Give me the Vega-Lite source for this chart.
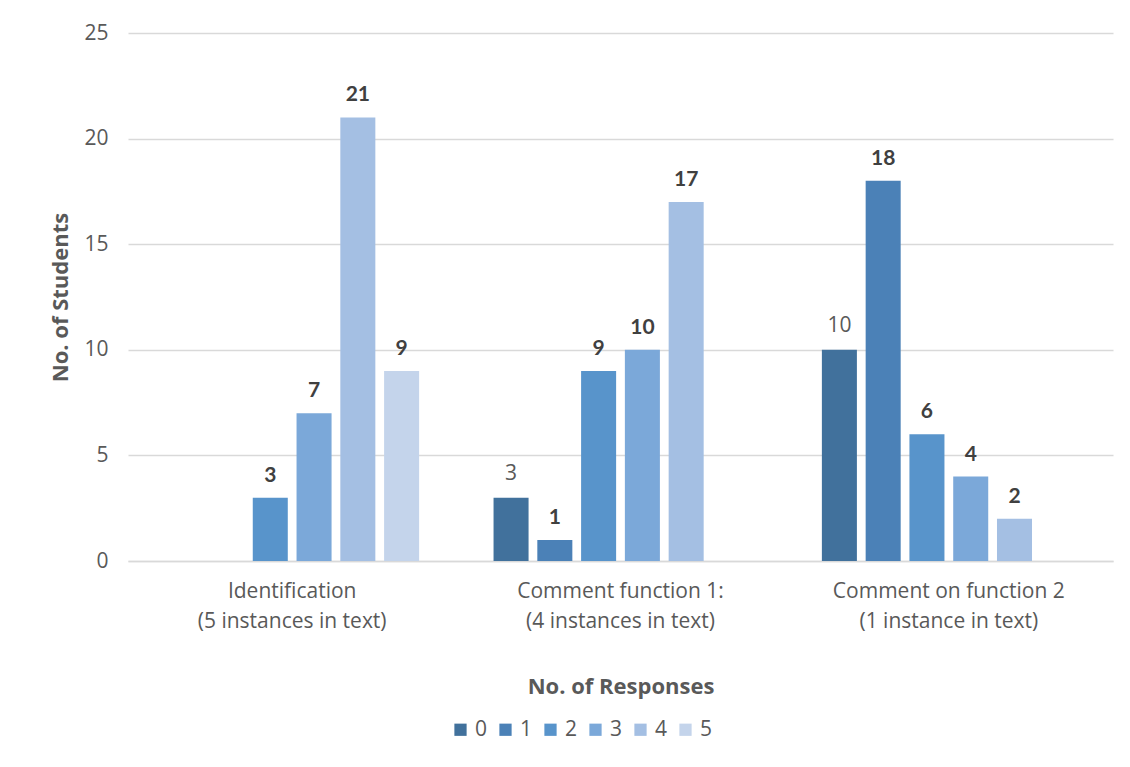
{
  "$schema": "https://vega.github.io/schema/vega-lite/v6.json",
  "autosize": {"type": "none"},
  "width": 985,
  "height": 528,
  "padding": {"left": 128, "top": 33, "right": 17, "bottom": 206},
  "background": "white",
  "data": {
    "values": [
      {"category": "Identification", "responses": "2", "students": 3},
      {"category": "Identification", "responses": "3", "students": 7},
      {"category": "Identification", "responses": "4", "students": 21},
      {"category": "Identification", "responses": "5", "students": 9},
      {"category": "Comment function 1:", "responses": "0", "students": 3},
      {"category": "Comment function 1:", "responses": "1", "students": 1},
      {"category": "Comment function 1:", "responses": "2", "students": 9},
      {"category": "Comment function 1:", "responses": "3", "students": 10},
      {"category": "Comment function 1:", "responses": "4", "students": 17},
      {"category": "Comment on function 2", "responses": "0", "students": 10},
      {"category": "Comment on function 2", "responses": "1", "students": 18},
      {"category": "Comment on function 2", "responses": "2", "students": 6},
      {"category": "Comment on function 2", "responses": "3", "students": 4},
      {"category": "Comment on function 2", "responses": "4", "students": 2}
    ]
  },
  "encoding": {
    "x": {
      "field": "category",
      "type": "nominal",
      "sort": ["Identification", "Comment function 1:", "Comment on function 2"],
      "scale": {"paddingInner": 0.2, "paddingOuter": 0.1},
      "axis": {
        "title": "No. of Responses",
        "labelAngle": 0,
        "labelFont": "Open Sans",
        "labelFontSize": 21,
        "labelColor": "#595959",
        "labelPadding": 19,
        "labelLineHeight": 30,
        "labelBaseline": "top",
        "labelLimit": 0,
        "labelExpr": "datum.label == 'Identification' ? ['Identification','(5 instances in text)'] : datum.label == 'Comment function 1:' ? ['Comment function 1:','(4 instances in text)'] : ['Comment on function 2','(1 instance in text)']",
        "ticks": false,
        "domainColor": "#D9D9D9",
        "domainWidth": 1.5,
        "titleFont": "Open Sans",
        "titleFontSize": 22,
        "titleFontWeight": "bold",
        "titleColor": "#595959",
        "titlePadding": 45
      }
    },
    "xOffset": {
      "field": "responses",
      "type": "nominal",
      "sort": ["0", "1", "2", "3", "4", "5"],
      "scale": {"domain": ["0", "1", "2", "3", "4", "5"], "paddingInner": 0.2, "paddingOuter": 0.1}
    },
    "y": {
      "field": "students",
      "type": "quantitative",
      "scale": {"domain": [0, 25]},
      "axis": {
        "title": "No. of Students",
        "values": [0, 5, 10, 15, 20, 25],
        "domain": false,
        "ticks": false,
        "gridColor": "#D9D9D9",
        "gridWidth": 1.5,
        "labelFont": "Open Sans",
        "labelFontSize": 21,
        "labelColor": "#595959",
        "labelPadding": 20,
        "titleFont": "Open Sans",
        "titleFontSize": 22,
        "titleFontWeight": "bold",
        "titleColor": "#595959",
        "titlePadding": 11
      }
    }
  },
  "layer": [
    {
      "mark": {"type": "bar"},
      "encoding": {
        "color": {
          "field": "responses",
          "type": "nominal",
          "scale": {
            "domain": ["0", "1", "2", "3", "4", "5"],
            "range": ["#41719C", "#4B81B7", "#5894CB", "#7BA8D9", "#A4BFE3", "#C4D4EB"]
          },
          "legend": {
            "title": null,
            "orient": "none",
            "legendX": 322,
            "legendY": 686,
            "direction": "horizontal",
            "symbolType": "square",
            "symbolSize": 150,
            "symbolStrokeWidth": 0,
            "labelFont": "Open Sans",
            "labelFontSize": 21,
            "labelColor": "#595959",
            "labelOffset": 4,
            "columnPadding": 7
          }
        }
      }
    },
    {
      "transform": [{"filter": "datum.responses == '0'"}],
      "mark": {"type": "text", "baseline": "bottom", "dy": -14, "font": "Open Sans", "fontSize": 21, "color": "#595959"},
      "encoding": {"text": {"field": "students", "type": "quantitative"}}
    },
    {
      "transform": [{"filter": "datum.responses != '0'"}],
      "mark": {"type": "text", "baseline": "bottom", "dy": -12, "font": "Lato", "fontSize": 21, "fontWeight": "bold", "color": "#404040"},
      "encoding": {"text": {"field": "students", "type": "quantitative"}}
    }
  ],
  "config": {"view": {"stroke": null}}
}
